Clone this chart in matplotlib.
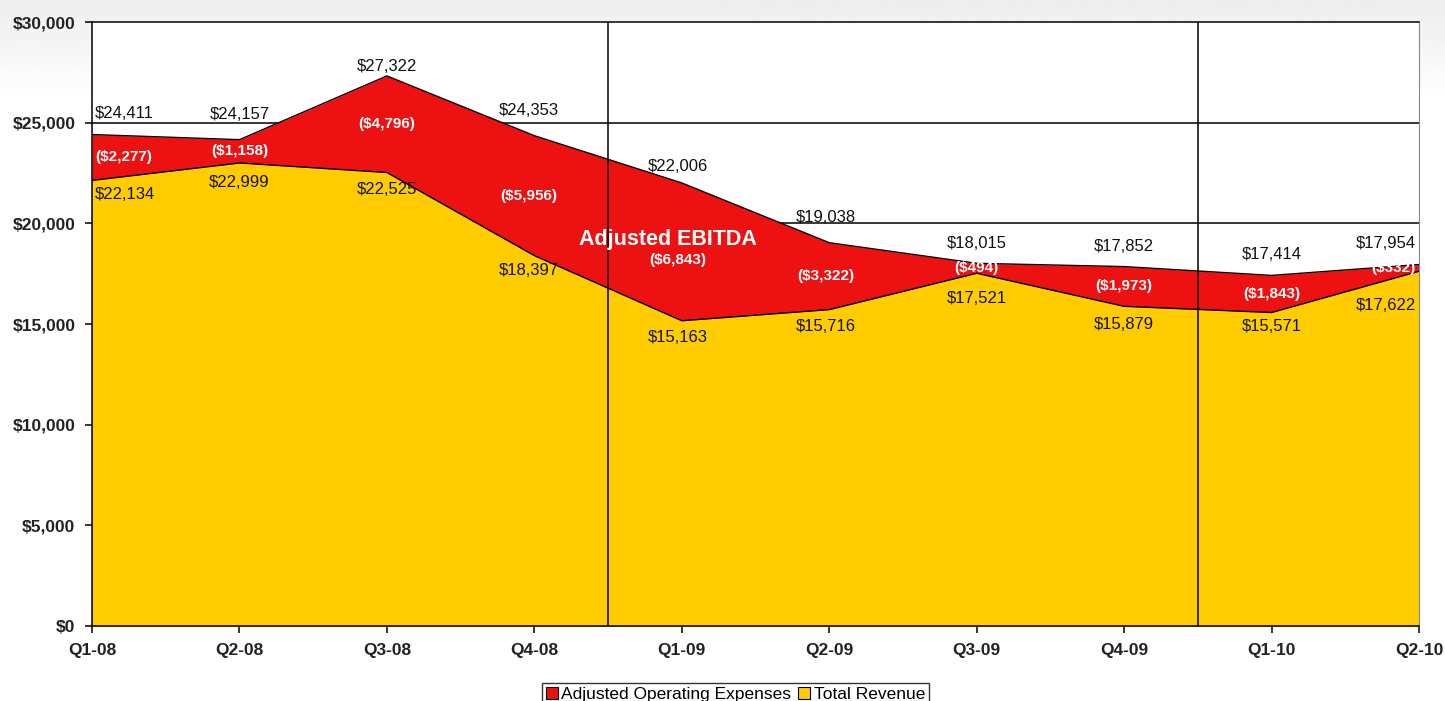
import numpy as np
import matplotlib
matplotlib.use("Agg")
from matplotlib import pyplot as plt
from matplotlib.patches import Patch
from matplotlib.ticker import FuncFormatter

plt.rcParams['font.family'] = ['Liberation Sans', 'DejaVu Sans']

quarters = ["Q1-08", "Q2-08", "Q3-08", "Q4-08", "Q1-09",
            "Q2-09", "Q3-09", "Q4-09", "Q1-10", "Q2-10"]
op_expenses = [24411, 24157, 27322, 24353, 22006, 19038, 18015, 17852, 17414, 17954]
revenue = [22134, 22999, 22525, 18397, 15163, 15716, 17521, 15879, 15571, 17622]
ebitda = [-2277, -1158, -4796, -5956, -6843, -3322, -494, -1973, -1843, -332]
year_breaks = [3.5, 7.5]

RED = "#ee1111"
YELLOW = "#ffcc00"

x = np.arange(len(quarters))

fig = plt.figure(figsize=(14.45, 7.01), dpi=100, facecolor="white")

# light grey band fading out at the top of the canvas
bg = fig.add_axes([0, 0, 1, 1], zorder=-10)
grad = np.linspace(0.93, 1.0, 100).reshape(-1, 1)
grad = np.vstack([grad, np.ones((600, 1))])
bg.imshow(grad, cmap="gray", vmin=0, vmax=1, aspect="auto", extent=[0, 1, 0, 1], origin="upper")
bg.axis("off")

ax = fig.add_axes([0.0637, 0.107, 0.9183, 0.8616])
ax.set_facecolor("white")

# gridlines sit behind the areas
for gy in (20000, 25000):
    ax.axhline(gy, color="black", lw=1.1, zorder=1)

ax.fill_between(x, 0, op_expenses, color=RED, zorder=2, lw=0)
ax.fill_between(x, 0, revenue, color=YELLOW, zorder=3, lw=0)
ax.plot(x, op_expenses, color="black", lw=1.0, zorder=4)
ax.plot(x, revenue, color="black", lw=1.0, zorder=4)

for xb in year_breaks:
    ax.axvline(xb, color="black", lw=1.1, zorder=5)

ax.set_xlim(0, len(quarters) - 1)
ax.set_ylim(0, 30000)
ax.set_yticks(np.arange(0, 30001, 5000))
ax.yaxis.set_major_formatter(FuncFormatter(lambda v, p: "${:,.0f}".format(v)))
ax.set_xticks(x)
ax.set_xticklabels(quarters)
ax.tick_params(axis="both", direction="out", length=5, width=1.1, colors="black",
               labelsize=12.5, pad=7)
for lab in ax.get_xticklabels() + ax.get_yticklabels():
    lab.set_fontweight("bold")
    lab.set_color("#222222")

for side in ("left", "bottom", "top"):
    ax.spines[side].set_color("black")
    ax.spines[side].set_linewidth(1.1)
ax.spines["right"].set_color("#888888")
for s in ax.spines.values():
    s.set_zorder(6)

# label offsets in pixels (above the expense line / below the revenue line)
up = [21, 25, 9, 25, 16, 25, 20, 20, 21, 21]
down = [14, 20, 17, 15, 17, 17, 25, 18, 14, 34]
shift = [3, 0, 0, -6, -4, -3, 0, 0, 0, -3]
mid_shift = [0, 0, 0, 0, -8, 0, 0, 0, 0, 0]
n = len(quarters)
for i in range(n):
    if i == 0:
        ha = "left"
    elif i == n - 1:
        ha = "right"
    else:
        ha = "center"
    dx = shift[i]
    ax.annotate("${:,}".format(op_expenses[i]), (x[i], op_expenses[i]),
                xytext=(dx, up[i]), textcoords="offset pixels",
                ha=ha, va="center", fontsize=12, color="#111111", zorder=7)
    ax.annotate("${:,}".format(revenue[i]), (x[i], revenue[i]),
                xytext=(dx, -down[i]), textcoords="offset pixels",
                ha=ha, va="center", fontsize=12, color="#111111", zorder=7)
    mid = (op_expenses[i] + revenue[i]) / 2
    ax.annotate("(${:,})".format(-ebitda[i]), (x[i], mid),
                xytext=(dx, mid_shift[i]), textcoords="offset pixels",
                ha=ha, va="center", fontsize=11, fontweight="bold",
                color="white", zorder=7)

ax.annotate("Adjusted EBITDA", (x[4], (op_expenses[4] + revenue[4]) / 2),
            xytext=(-14, 12), textcoords="offset pixels",
            ha="center", va="center", fontsize=15.5, fontweight="bold",
            color="white", zorder=7)

handles = [Patch(facecolor=RED, edgecolor="black", lw=0.8, label="Adjusted Operating Expenses"),
           Patch(facecolor=YELLOW, edgecolor="black", lw=0.8, label="Total Revenue")]
leg = fig.legend(handles=handles, loc="lower center", bbox_to_anchor=(0.509, -0.006),
                 ncol=2, fontsize=12.5, frameon=True, fancybox=False,
                 handlelength=0.7, handleheight=0.7, handletextpad=0.2,
                 columnspacing=0.4, borderpad=0.2, borderaxespad=0)
leg.get_frame().set_edgecolor("black")
leg.get_frame().set_linewidth(1.0)

fig.savefig("out.png", dpi=100, facecolor=fig.get_facecolor())
